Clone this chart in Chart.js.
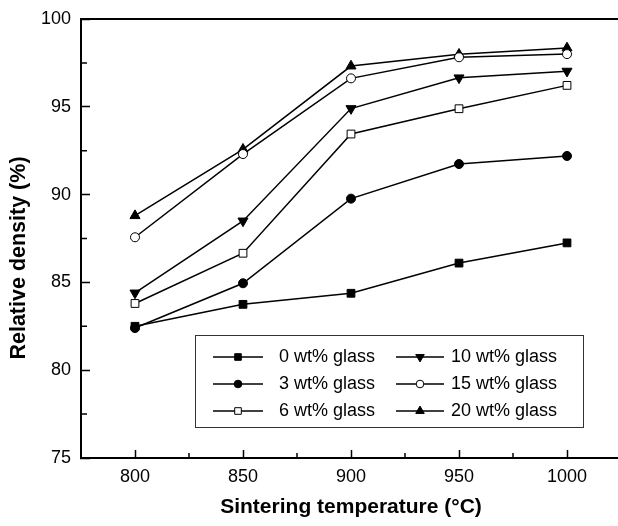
<!DOCTYPE html>
<html>
<head>
<meta charset="utf-8">
<title>Relative density vs sintering temperature</title>
<script src="https://cdn.jsdelivr.net/npm/chart.js@4.4.0/dist/chart.umd.min.js"></script>
<style>
  html, body { margin: 0; padding: 0; background: #fff; overflow: hidden; }
  #wrap { width: 625px; height: 526px; }
</style>
</head>
<body>
<div id="wrap"><canvas id="densityChart" width="625" height="526"></canvas></div>
<script>
'use strict';

// ---- data ----
const temperatures = [800, 850, 900, 950, 1000];
const seriesNames = ['0 wt% glass', '3 wt% glass', '6 wt% glass', '10 wt% glass', '15 wt% glass', '20 wt% glass'];
const glass0  = [82.5, 83.75, 84.38, 86.1, 87.25];
const glass3  = [82.4, 84.95, 89.77, 91.74, 92.2];
const glass6  = [83.8, 86.66, 93.45, 94.89, 96.22];
const glass10 = [84.4, 88.5, 94.9, 96.65, 97.03];
const glass15 = [87.57, 92.31, 96.62, 97.82, 98.0];
const glass20 = [88.8, 92.58, 97.32, 97.99, 98.35];
const xTicks = [800, 850, 900, 950, 1000];
const xMinorTicks = [825, 875, 925, 975];
const yTicks = [75, 80, 85, 90, 95, 100];
const yMinorTicks = [77.5, 82.5, 87.5, 92.5, 97.5];

const FONT = "'Liberation Sans', Arial, Helvetica, sans-serif";

// marker look per series
const markers = [
  { style: 'rect',     radius: 5.5, rotation: 0,   fill: '#000' },
  { style: 'circle',   radius: 4.5, rotation: 0,   fill: '#000' },
  { style: 'rect',     radius: 5.5, rotation: 0,   fill: '#fff' },
  { style: 'triangle', radius: 5.8, rotation: 180, fill: '#000' },
  { style: 'circle',   radius: 4.5, rotation: 0,   fill: '#fff' },
  { style: 'triangle', radius: 5.8, rotation: 0,   fill: '#000' },
];

const seriesValues = [glass0, glass3, glass6, glass10, glass15, glass20];

const datasets = seriesValues.map((vals, i) => ({
  label: seriesNames[i],
  data: vals.map((v, j) => ({ x: temperatures[j], y: v })),
  borderColor: '#000',
  borderWidth: 1.5,
  tension: 0,
  pointStyle: markers[i].style,
  pointRadius: markers[i].radius,
  pointRotation: markers[i].rotation,
  pointBackgroundColor: markers[i].fill,
  pointBorderColor: '#000',
  pointBorderWidth: 1,
  pointHoverRadius: markers[i].radius,
}));

function drawMarker(ctx, ds, x, y, k) {
  ctx.save();
  ctx.fillStyle = ds.pointBackgroundColor;
  ctx.strokeStyle = ds.pointBorderColor;
  ctx.lineWidth = ds.pointBorderWidth;
  Chart.helpers.drawPoint(ctx, {
    pointStyle: ds.pointStyle,
    radius: ds.pointRadius * k,
    rotation: ds.pointRotation,
    borderWidth: ds.pointBorderWidth,
  }, x, y);
  ctx.restore();
}

// frame top line, minor ticks, y title and legend box
const extras = {
  id: 'extras',
  afterDraw(chart) {
    const ctx = chart.ctx;
    const area = chart.chartArea;
    const xs = chart.scales.x;
    const ys = chart.scales.y;

    ctx.save();
    ctx.strokeStyle = '#000';
    ctx.lineWidth = 2;
    ctx.beginPath();
    ctx.moveTo(area.left - 1, area.top);
    ctx.lineTo(area.right, area.top);
    ctx.stroke();

    ctx.lineWidth = 1.5;
    ctx.beginPath();
    xMinorTicks.forEach(v => {
      const px = xs.getPixelForValue(v);
      ctx.moveTo(px, area.bottom);
      ctx.lineTo(px, area.bottom - 5);
    });
    yMinorTicks.forEach(v => {
      const py = ys.getPixelForValue(v);
      ctx.moveTo(area.left, py);
      ctx.lineTo(area.left + 6, py);
    });
    ctx.stroke();

    // y axis title
    ctx.save();
    ctx.translate(19, 258);
    ctx.rotate(-Math.PI / 2);
    ctx.fillStyle = '#000';
    ctx.font = 'bold 21.5px ' + FONT;
    ctx.textAlign = 'center';
    ctx.textBaseline = 'middle';
    ctx.fillText('Relative density (%)', 0, 0);
    ctx.restore();

    // legend
    const box = { left: 195, top: 335, right: 583, bottom: 427 };
    ctx.lineWidth = 1;
    ctx.strokeStyle = '#333';
    ctx.strokeRect(box.left + 0.5, box.top + 0.5, box.right - box.left, box.bottom - box.top);

    const colLine = [[213, 263], [396, 444]];
    const colText = [279, 451];
    const rowY = [357, 384, 411];
    ctx.font = '18px ' + FONT;
    ctx.textBaseline = 'middle';
    ctx.textAlign = 'left';
    chart.data.datasets.forEach((ds, i) => {
      const col = i < 3 ? 0 : 1;
      const y = rowY[i % 3];
      const [x1, x2] = colLine[col];
      ctx.strokeStyle = '#000';
      ctx.lineWidth = 1.5;
      ctx.beginPath();
      ctx.moveTo(x1, y);
      ctx.lineTo(x2, y);
      ctx.stroke();
      drawMarker(ctx, ds, (x1 + x2) / 2, y, 0.85);
      ctx.fillStyle = '#000';
      ctx.fillText(ds.label, colText[col], y);
    });
    ctx.restore();
  },
};

new Chart(document.getElementById('densityChart'), {
  type: 'line',
  data: { datasets },
  plugins: [extras],
  options: {
    responsive: false,
    animation: false,
    devicePixelRatio: 1,
    layout: { autoPadding: false, padding: { top: 19, left: 0, right: 4, bottom: 0 } },
    plugins: {
      legend: { display: false },
      tooltip: { enabled: false },
    },
    scales: {
      x: {
        type: 'linear',
        position: 'bottom',
        min: 775,
        max: 1025,
        afterBuildTicks: s => { s.ticks = xTicks.map(v => ({ value: v })); },
        afterFit: s => { s.height = 68; },
        grid: { drawOnChartArea: false, drawTicks: true, tickLength: -8, tickWidth: 1.5, tickColor: '#000' },
        border: { display: true, color: '#000', width: 2 },
        ticks: {
          color: '#000', font: { family: FONT, size: 18 }, padding: 16, maxRotation: 0, autoSkip: false,
          callback: v => String(v),
        },
        title: {
          display: true,
          text: 'Sintering temperature (°C)',
          color: '#000',
          font: { family: FONT, size: 21, weight: 'bold' },
          padding: { top: 0, bottom: 6 },
        },
      },
      y: {
        type: 'linear',
        position: 'left',
        min: 75,
        max: 100,
        afterBuildTicks: s => { s.ticks = yTicks.map(v => ({ value: v })); },
        afterFit: s => { s.width = 81; s.paddingTop = 0; s.paddingBottom = 0; },
        grid: { drawOnChartArea: false, drawTicks: true, tickLength: -9, tickWidth: 1.5, tickColor: '#000' },
        border: { display: true, color: '#000', width: 2 },
        ticks: { color: '#000', font: { family: FONT, size: 18 }, padding: 19, callback: v => String(v) },
      },
    },
  },
});
</script>
</body>
</html>
